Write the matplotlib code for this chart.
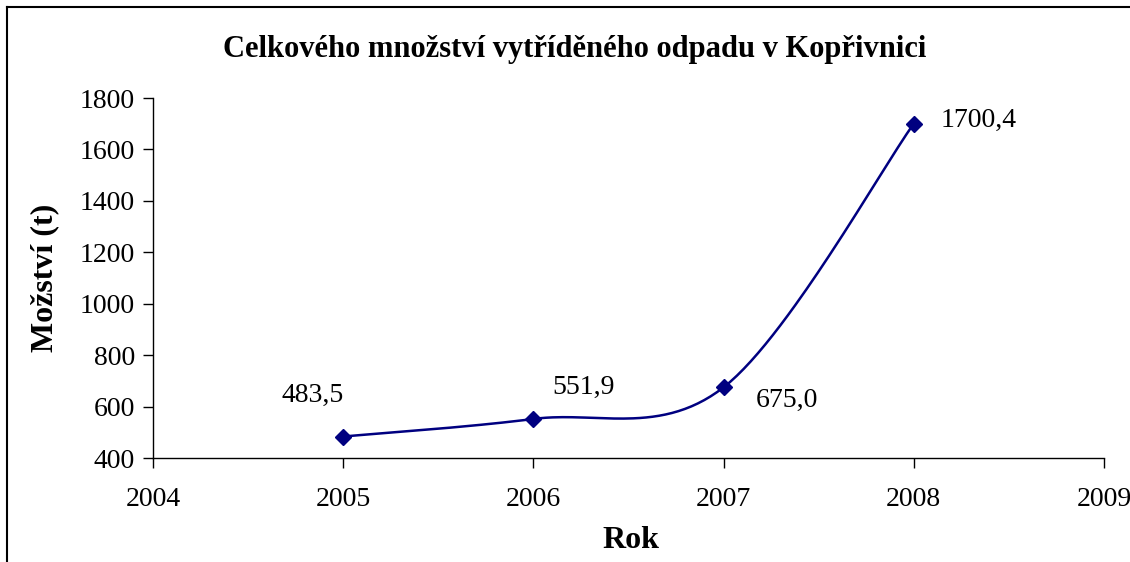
import numpy as np
import matplotlib
matplotlib.use("Agg")
import matplotlib.pyplot as plt
from matplotlib.lines import Line2D

years = [2005, 2006, 2007, 2008]
values = [483.5, 551.9, 675.0, 1700.4]
labels = ["483,5", "551,9", "675,0", "1700,4"]
title = "Celkového množství vytříděného odpadu v Kopřivnici"
xlabel = "Rok"
ylabel = "Možství (t)"

plt.rcParams['font.family'] = ['Liberation Serif', 'DejaVu Serif']
color = "#000080"

fig = plt.figure(figsize=(11.3, 5.62), dpi=100)
ax = fig.add_axes([153/1130, 1-458/562, (1104-153)/1130, (458-98)/562])
ax.set_xlim(2004, 2009)
ax.set_ylim(400, 1800)
ax.set_xticks(range(2004, 2010))
ax.set_yticks(range(400, 1801, 200))
for s in ['top', 'right']:
    ax.spines[s].set_visible(False)
for s in ['left', 'bottom']:
    ax.spines[s].set_linewidth(1.0)
ax.tick_params(axis='both', direction='out', length=7, width=1, labelsize=20, pad=6)
ax.tick_params(axis='x', pad=14)

# Excel-like smoothing (Catmull-Rom in display space)
fig.canvas.draw()
pts = ax.transData.transform(np.column_stack([years, values]))
n = len(pts)
curve = []
for i in range(n - 1):
    p0 = pts[i - 1] if i > 0 else pts[i]
    p1 = pts[i]
    p2 = pts[i + 1]
    p3 = pts[i + 2] if i + 2 < n else pts[i + 1]
    c1 = p1 + (p2 - p0) / 6
    c2 = p2 - (p3 - p1) / 6
    t = np.linspace(0, 1, 60)[:, None]
    seg = (1-t)**3*p1 + 3*(1-t)**2*t*c1 + 3*(1-t)*t**2*c2 + t**3*p2
    curve.append(seg if i == 0 else seg[1:])
curve = np.vstack(curve)
cdata = ax.transData.inverted().transform(curve)
ax.plot(cdata[:, 0], cdata[:, 1], color=color, lw=1.8, clip_on=False)
ax.plot(years, values, linestyle='none', marker='D', markersize=8.5, color=color, clip_on=False)

offsets = [(-31, 41), (50, 32), (63, -13), (65, 3)]
for x, y, lab, off in zip(years, values, labels, offsets):
    ax.annotate(lab, (x, y), xytext=off, textcoords='offset pixels',
                ha='center', va='center', fontsize=20)

fig.text(575/1130, 1-49/562, title, ha='center', va='center', fontsize=22, fontweight='bold')
fig.text(45/1130, 1-278/562, ylabel, ha='center', va='center', rotation=90, fontsize=23, fontweight='bold')
fig.text(631/1130, 1-540/562, xlabel, ha='center', va='center', fontsize=23, fontweight='bold')

fig.add_artist(Line2D([7/1130, 1.0], [1-7/562, 1-7/562], transform=fig.transFigure, color='black', lw=1.5))
fig.add_artist(Line2D([7/1130, 7/1130], [1-7/562, 0.0], transform=fig.transFigure, color='black', lw=1.5))

fig.savefig("out.png", dpi=100)
